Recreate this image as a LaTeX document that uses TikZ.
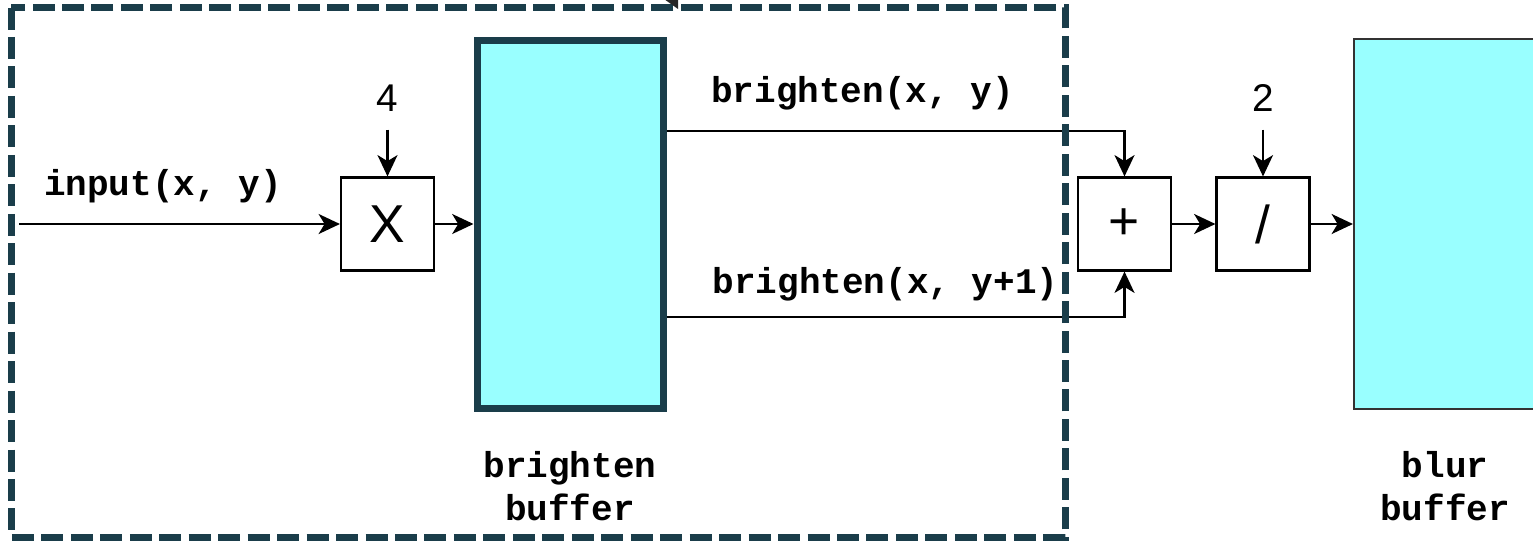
\documentclass[tikz,border=0pt]{standalone}
\usepackage{fontspec}
\setmainfont{Liberation Sans}
\newfontfamily\codefont{Liberation Mono}
\usetikzlibrary{arrows.meta,calc}
\definecolor{frameteal}{RGB}{26,61,74}
\definecolor{bufcyan}{RGB}{153,255,255}
\begin{document}
\begin{tikzpicture}[x=0.75pt,y=-0.75pt,
  arr/.style={draw=black,line width=1.6pt,-{Stealth[length=16pt,width=15pt,inset=4.5pt]}},
  opbox/.style={draw=black,line width=1.6pt,fill=white,minimum width=93*0.75pt,minimum height=93*0.75pt,inner sep=0pt,font=\fontsize{40pt}{44pt}\selectfont},
  num/.style={inner sep=0pt,font=\fontsize{29pt}{32pt}\selectfont},
  code/.style={inner sep=0pt,font=\codefont\bfseries\fontsize{27pt}{32.25pt}\selectfont},
  bufthick/.style={draw=frameteal,line width=5.25pt,fill=bufcyan,minimum width=186*0.75pt,minimum height=368*0.75pt,inner sep=0pt},
  bufthin/.style={draw=black!80,line width=1.6pt,fill=bufcyan,minimum width=186*0.75pt,minimum height=370*0.75pt,inner sep=0pt},
  region/.style={draw=frameteal,line width=5.25pt,dash pattern=on 16.5pt off 5.6pt}]
\useasboundingbox (0,0) rectangle (1533,540);
\clip (0,0) rectangle (1533,540);

% buffers
\node[bufthick] (bbuf) at (570,224) {};
\node[bufthin] (blur) at (1447,224) {};

% operator boxes
\node[opbox] (xbox) at (387.5,224) {X};
\node[opbox] (plus) at (1124.5,224) {+};
\node[opbox] (div) at (1263,224) {/};

% constants
\node[num,anchor=base] (n4) at ($(xbox.north)+(0,-65)$) {4};
\node[num,anchor=base] (n2) at ($(div.north)+(0,-65)$) {2};
\draw[arr,shorten <=13.5pt] (n4.south) -- (xbox.north);
\draw[arr,shorten <=13.5pt] (n2.south) -- (div.north);

% input
\coordinate (inStart) at (19,224);
\node[code,anchor=base] (inlbl) at (163,195) {input(x, y)};
\draw[arr] (inStart) -- (xbox.west);
\draw[arr] (xbox.east) -- (bbuf.west);

% reads of the brighten buffer
\node[code,anchor=base] (r1) at (862.5,102) {brighten(x, y)};
\node[code,anchor=base] (r2) at (885.5,293) {brighten(x, y+1)};
\draw[arr] ($(bbuf.east)+(0,-93)$) -| (plus.north);
\draw[arr] ($(bbuf.east)+(0,93)$) -| (plus.south);

\draw[arr] (plus.east) -- (div.west);
\draw[arr] (div.east) -- (blur.west);

% buffer names (base = last line)
\node[code,align=center,anchor=base] (bname) at (570,520) {brighten\\buffer};
\node[code,align=center,anchor=base] (blname) at (1445,520) {blur\\buffer};

% compute region
\draw[region] (11,7.5) rectangle (1065,537);
\fill[black!85] (664,-1) -- (678,-1) -- (678,9) -- cycle;
\end{tikzpicture}
\end{document}
